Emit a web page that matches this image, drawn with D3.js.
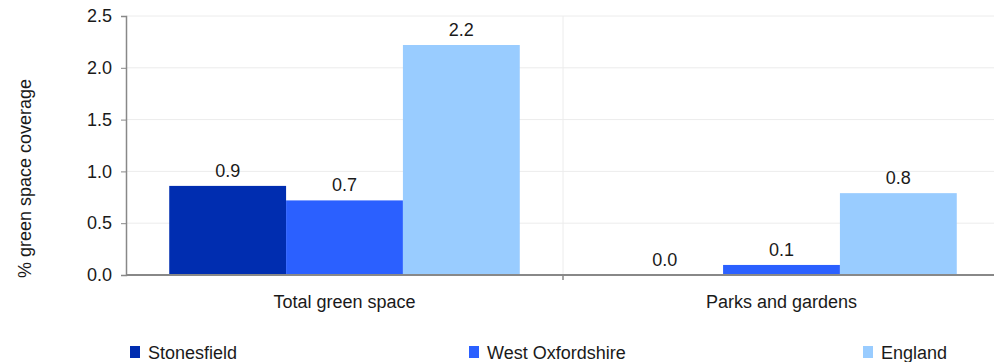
<!DOCTYPE html>
<html>
<head>
<meta charset="utf-8">
<script src="https://cdn.jsdelivr.net/npm/d3@7"></script>
<style>
  html, body { margin: 0; padding: 0; background: #fff; }
  svg { display: block; font-family: "Liberation Sans", Arial, sans-serif; }
</style>
</head>
<body>
<div id="chart"></div>
<script>
(function () {
  'use strict';

  // Data
  const categories = ['Total green space', 'Parks and gardens'];
  const seriesNames = ['Stonesfield', 'West Oxfordshire', 'England'];
  const stonesfield = [0.86, 0.0];
  const westOxfordshire = [0.72, 0.097];
  const england = [2.22, 0.79];
  const yTicks = [0, 0.5, 1.0, 1.5, 2.0, 2.5];

  const COLORS = ['#002db0', '#2b60ff', '#99ccff'];
  const seriesValues = [stonesfield, westOxfordshire, england];
  const FS = 18;
  const TXT = '#1a1a1a';

  const W = 994, H = 362;
  const margin = { top: 16, right: -6, bottom: 87, left: 126 };
  const w = W - margin.left - margin.right;
  const h = H - margin.top - margin.bottom;

  const svg = d3.select('#chart').append('svg')
    .attr('width', W).attr('height', H);
  const g = svg.append('g').attr('transform', `translate(${margin.left},${margin.top})`);

  const x0 = d3.scaleBand().domain(categories).range([0, w]).paddingInner(0).paddingOuter(0);
  const x1 = d3.scaleBand().domain(seriesNames).range([0, x0.bandwidth()]).paddingInner(0).paddingOuter(0.37);
  const y = d3.scaleLinear().domain([0, 2.5]).range([h, 0]);

  // Horizontal gridlines
  g.selectAll('.grid').data(yTicks.filter(d => d > 0)).enter().append('line')
    .attr('x1', 0).attr('x2', w)
    .attr('y1', d => y(d)).attr('y2', d => y(d))
    .attr('stroke', '#ececec').attr('stroke-width', 1);

  // Vertical category separators
  categories.slice(1).forEach(c => {
    g.append('line')
      .attr('x1', x0(c)).attr('x2', x0(c))
      .attr('y1', 0).attr('y2', h)
      .attr('stroke', '#ececec').attr('stroke-width', 1);
  });

  // Bars + value labels
  categories.forEach((c, ci) => {
    seriesNames.forEach((s, si) => {
      const v = seriesValues[si][ci];
      const bx = x0(c) + x1(s);
      g.append('rect')
        .attr('x', bx).attr('y', y(v))
        .attr('width', x1.bandwidth()).attr('height', h - y(v))
        .attr('fill', COLORS[si]);
      g.append('text')
        .attr('x', bx + x1.bandwidth() / 2).attr('y', y(v) - 9)
        .attr('text-anchor', 'middle')
        .attr('fill', TXT).attr('font-size', FS)
        .text(v.toFixed(1));
    });
  });

  // Y axis
  const yAxis = g.append('g').call(
    d3.axisLeft(y).tickValues(yTicks).tickFormat(d3.format('.1f')).tickSize(5).tickPadding(9)
  );
  yAxis.select('.domain').attr('stroke', '#888').attr('stroke-width', 1.5);
  yAxis.selectAll('.tick line').attr('stroke', '#888');
  yAxis.selectAll('.tick text').attr('font-size', FS).attr('fill', TXT)
    .attr('font-family', '"Liberation Sans", Arial, sans-serif');

  // X axis
  g.append('line')
    .attr('x1', 0).attr('x2', w).attr('y1', h).attr('y2', h)
    .attr('stroke', '#888').attr('stroke-width', 2);
  categories.forEach(c => {
    if (x0(c) > 0) {
      g.append('line')
        .attr('x1', x0(c)).attr('x2', x0(c)).attr('y1', h).attr('y2', h + 5)
        .attr('stroke', '#888').attr('stroke-width', 1.5);
    }
    g.append('text')
      .attr('x', x0(c) + x0.bandwidth() / 2).attr('y', h + 33)
      .attr('text-anchor', 'middle')
      .attr('fill', TXT).attr('font-size', FS)
      .text(c);
  });

  // Y axis title
  svg.append('text')
    .attr('transform', `translate(31,${margin.top + h / 2 + 33}) rotate(-90)`)
    .attr('text-anchor', 'middle')
    .attr('fill', TXT).attr('font-size', FS)
    .text('% green space coverage');

  // Legend
  const legendX = [130, 469, 863];
  seriesNames.forEach((s, i) => {
    svg.append('rect')
      .attr('x', legendX[i]).attr('y', 346)
      .attr('width', 10).attr('height', 12)
      .attr('fill', COLORS[i]);
    svg.append('text')
      .attr('x', legendX[i] + 18).attr('y', 359)
      .attr('fill', TXT).attr('font-size', FS)
      .text(s);
  });
})();
</script>
</body>
</html>
